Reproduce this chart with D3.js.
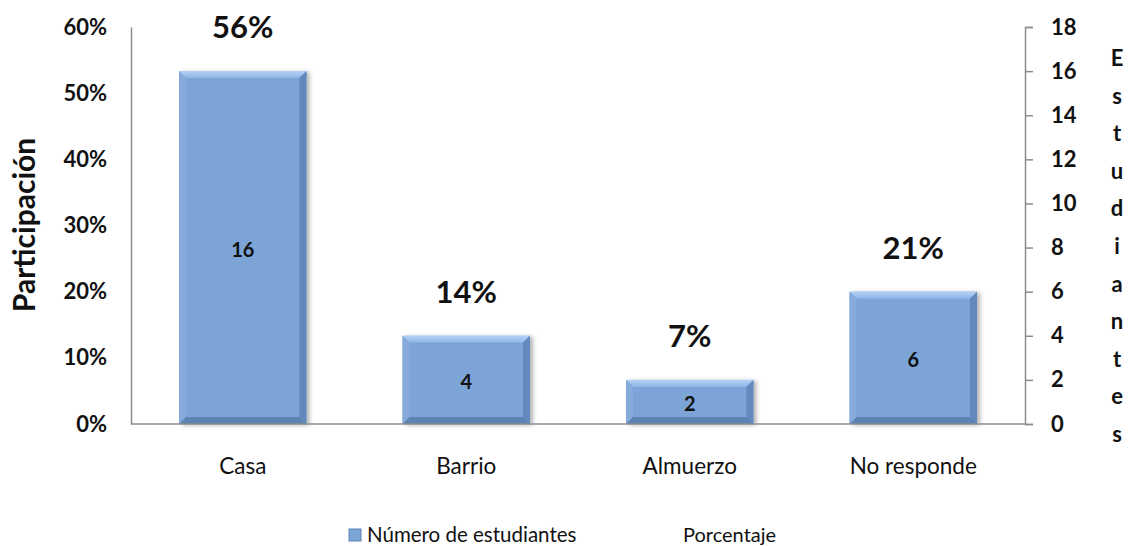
<!DOCTYPE html>
<html>
<head>
<meta charset="utf-8">
<script src="https://cdn.jsdelivr.net/npm/d3@7"></script>
<style>
  body { margin: 0; background: #fff; }
  text { font-family: Lato, "Open Sans", sans-serif; }
</style>
</head>
<body>
<div id="chart"></div>
<script>
// Chart data
const categories = ['Casa', 'Barrio', 'Almuerzo', 'No responde']
const students = [16, 4, 2, 6]
const percentLabels = ['56%', '14%', '7%', '21%']
const leftTicks = [0, 0.1, 0.2, 0.3, 0.4, 0.5, 0.6]
const rightTicks = [0, 2, 4, 6, 8, 10, 12, 14, 16, 18]

// Our canvas
const width = 1132,
  height = 546,
  plotLeft = 131,
  plotRight = 1025,
  plotTop = 27,
  plotBottom = 424,
  bevel = 7

let svg = d3.select('#chart')
  .append('svg')
  .attr('width', width)
  .attr('height', height)

let x = d3.scaleBand()
  .domain(categories)
  .range([plotLeft, plotRight])
  .paddingInner(0.43)
  .paddingOuter(0.215)

let yLeft = d3.scaleLinear().domain([0, 0.6]).range([plotBottom, plotTop])
let yRight = d3.scaleLinear().domain([0, 18]).range([plotBottom, plotTop])

// shadow
let defs = svg.append('defs')
let f = defs.append('filter').attr('id', 'shadow')
  .attr('x', '-10%').attr('y', '-10%').attr('width', '130%').attr('height', '120%')
f.append('feDropShadow').attr('dx', 3).attr('dy', 1).attr('stdDeviation', 2)
  .attr('flood-color', '#000').attr('flood-opacity', 0.3)

let gTop = defs.append('linearGradient').attr('id', 'gTop')
  .attr('x1', 0).attr('x2', 0).attr('y1', 0).attr('y2', 1)
gTop.append('stop').attr('offset', '0%').attr('stop-color', '#b4d2f6')
gTop.append('stop').attr('offset', '100%').attr('stop-color', '#8fb5e6')

// bars
let bars = svg.selectAll('g.bar')
  .data(categories.map((c, i) => ({ c, v: students[i], p: percentLabels[i] })))
  .enter()
  .append('g')
  .attr('class', 'bar')

bars.append('rect')
  .attr('x', d => x(d.c))
  .attr('y', d => yRight(d.v))
  .attr('width', x.bandwidth())
  .attr('height', d => plotBottom - yRight(d.v))
  .attr('fill', '#7ba4d7')
  .attr('filter', 'url(#shadow)')

// bevel faces
let face = (d, side) => {
  let x0 = x(d.c), x1 = x0 + x.bandwidth(), y0 = yRight(d.v), y1 = plotBottom
  let b = Math.min(bevel, (y1 - y0) / 2)
  if (side === 'top') return [[x0, y0], [x1, y0], [x1 - b, y0 + b], [x0 + b, y0 + b]]
  if (side === 'left') return [[x0, y0], [x0 + b, y0 + b], [x0 + b, y1 - b], [x0, y1]]
  if (side === 'right') return [[x1, y0], [x1 - b, y0 + b], [x1 - b, y1 - b], [x1, y1]]
  return [[x0, y1], [x0 + b, y1 - b], [x1 - b, y1 - b], [x1, y1]]
}
let faceColor = { top: 'url(#gTop)', left: '#86aadb', right: '#6189bd', bottom: '#5d83b5' }
Object.keys(faceColor).forEach(side => {
  bars.append('polygon')
    .attr('points', d => face(d, side).map(p => p.join(',')).join(' '))
    .attr('fill', faceColor[side])
})

bars.append('text')
  .attr('x', d => x(d.c) + x.bandwidth() / 2)
  .attr('y', d => (yRight(d.v) + plotBottom) / 2 + 9)
  .attr('text-anchor', 'middle')
  .attr('font-size', 20)
  .attr('font-weight', 'bold')
  .attr('fill', '#111')
  .text(d => d.v)

bars.append('text')
  .attr('x', d => x(d.c) + x.bandwidth() / 2)
  .attr('y', d => yRight(d.v) - 33)
  .attr('text-anchor', 'middle')
  .attr('font-size', 31)
  .attr('font-weight', 'bold')
  .attr('fill', '#111')
  .text(d => d.p)

// axes
let axisL = svg.append('g')
  .attr('transform', `translate(${plotLeft},0)`)
  .call(d3.axisLeft(yLeft).tickValues(leftTicks).tickFormat(d3.format('.0%')).tickSize(0).tickPadding(24))
let axisR = svg.append('g')
  .attr('transform', `translate(${plotRight},0)`)
  .call(d3.axisRight(yRight).tickValues(rightTicks).tickSize(8).tickPadding(18))

;[axisL, axisR].forEach(a => {
  a.select('.domain').attr('stroke', '#8c8c8c').attr('stroke-width', 1.5)
  a.selectAll('.tick line').attr('stroke', '#8c8c8c').attr('stroke-width', 1.5)
  a.selectAll('.tick text')
    .attr('font-family', 'Lato, sans-serif')
    .attr('font-size', 22)
    .attr('font-weight', 'bold')
    .attr('fill', '#111')
})
axisR.selectAll('.tick text').attr('text-anchor', 'start')

// baseline
svg.append('line')
  .attr('x1', plotLeft).attr('x2', plotRight)
  .attr('y1', plotBottom).attr('y2', plotBottom)
  .attr('stroke', '#8c8c8c').attr('stroke-width', 1.5)

// x labels
svg.selectAll('text.xlab')
  .data(categories)
  .enter()
  .append('text')
  .attr('class', 'xlab')
  .attr('x', d => x(d) + x.bandwidth() / 2)
  .attr('y', 474)
  .attr('text-anchor', 'middle')
  .attr('font-size', 22.5)
  .attr('fill', '#111')
  .text(d => d)

// left title
svg.append('text')
  .attr('transform', 'translate(35,225) rotate(-90)')
  .attr('text-anchor', 'middle')
  .attr('font-size', 30)
  .attr('font-weight', 'bold')
  .attr('fill', '#111')
  .text('Participación')

// right title, stacked letters
let rt = svg.append('text')
  .attr('font-size', 22)
  .attr('font-weight', 'bold')
  .attr('fill', '#111')
  .attr('text-anchor', 'middle')
'Estudiantes'.split('').forEach((ch, i) => {
  rt.append('tspan').attr('x', 1117).attr('y', 66 + i * 37.6).text(ch)
})

// legend
svg.append('rect')
  .attr('x', 349).attr('y', 529).attr('width', 12).attr('height', 12)
  .attr('fill', '#7ba4d7').attr('stroke', '#5d83b5')
svg.append('text')
  .attr('x', 367).attr('y', 542)
  .attr('font-size', 20.5)
  .attr('fill', '#111')
  .text('Número de estudiantes')
svg.append('text')
  .attr('x', 683).attr('y', 542)
  .attr('font-size', 20)
  .attr('fill', '#111')
  .text('Porcentaje')
</script>
</body>
</html>
